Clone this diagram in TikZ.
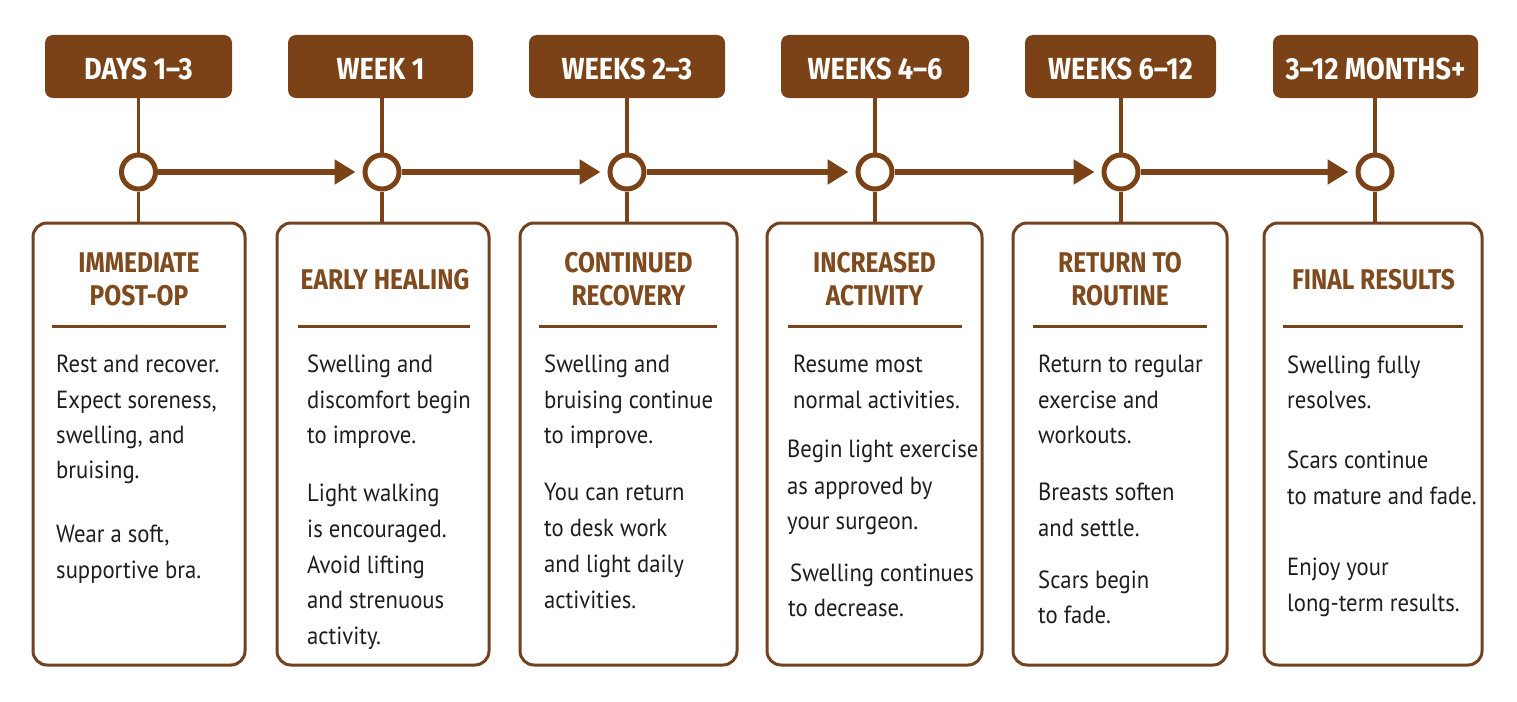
\documentclass[tikz,border=0pt]{standalone}
\usepackage{fontspec}
\usetikzlibrary{arrows.meta}
\newfontfamily\headfont[FakeStretch=0.86]{Fira Sans Bold}
\newfontfamily\tagfont[FakeStretch=0.89]{Fira Sans Bold}
\newfontfamily\bodyfont[FakeStretch=0.915]{PT Sans}
\definecolor{brownA}{HTML}{7A4216}
\definecolor{brownB}{HTML}{70421F}
\definecolor{brownH}{HTML}{7E4A1E}
\definecolor{inkC}{HTML}{1E1E1E}
\newcommand\bodyline[4]{\node[bodytext] (#1) at (#2,#3) {#4};}
\newcommand\headline[4]{\node[headtext] (#1) at (#2,#3) {#4};}
\begin{document}
\begin{tikzpicture}[x=1pt,y=-1pt,
  tagbox/.style={fill=brownA, draw=none, rounded corners=8pt, minimum height=63pt,
    inner sep=0pt, text=white, font=\tagfont\fontsize{30.5}{32}\selectfont,
    text height=25pt, text depth=0pt},
  dot/.style={circle, draw=brownA, line width=5pt, fill=white, minimum size=34pt, inner sep=0pt},
  card/.style={draw=brownB, line width=3pt, rounded corners=14pt, fill=white,
    minimum height=442pt, inner sep=0pt},
  stem/.style={draw=brownA, line width=3.5pt},
  flow/.style={draw=brownA, line width=6pt, -{Triangle[length=21pt,width=24pt]}, shorten >=7pt},
  divider/.style={draw=brownA, line width=3pt},
  headtext/.style={anchor=base, inner sep=0pt, text=brownH, font=\headfont\fontsize{28.5}{30}\selectfont},
  bodytext/.style={anchor=base west, inner sep=0pt, text=inkC, font=\bodyfont\fontsize{24.8}{29}\selectfont}
]
\useasboundingbox (0,0) rectangle (1517,701);
\fill[white] (0,0) rectangle (1517,701);

% top tags
\node[tagbox, minimum width=187pt] (t1) at (138.5,66.5) {DAYS 1–3};
\node[tagbox, minimum width=185pt] (t2) at (380.5,66.5) {WEEK 1};
\node[tagbox, minimum width=196pt] (t3) at (627,66.5) {WEEKS 2–3};
\node[tagbox, minimum width=188pt] (t4) at (875,66.5) {WEEKS 4–6};
\node[tagbox, minimum width=191pt] (t5) at (1120.5,66.5) {WEEKS 6–12};
\node[tagbox, minimum width=205pt] (t6) at (1375.5,66.5) {3–12 MONTHS+};

% circles
\node[dot] (c1) at (138.5,172) {};
\node[dot] (c2) at (382,172) {};
\node[dot] (c3) at (627,172) {};
\node[dot] (c4) at (875,172) {};
\node[dot] (c5) at (1121,172) {};
\node[dot] (c6) at (1375,172) {};

% cards
\node[card, minimum width=212pt] (b1) at (139,444) {};
\node[card, minimum width=212pt] (b2) at (383,444) {};
\node[card, minimum width=217pt] (b3) at (628.5,444) {};
\node[card, minimum width=215pt] (b4) at (874.5,444) {};
\node[card, minimum width=214pt] (b5) at (1120,444) {};
\node[card, minimum width=218pt] (b6) at (1373,444) {};

% connectors
\foreach \i in {1,...,6}{
  \draw[stem] (c\i |- t\i.south) -- (c\i.north);
  \draw[stem] (c\i.south) -- (c\i |- b\i.north);
}
\draw[flow] (c1) -- (c2);
\draw[flow] (c2) -- (c3);
\draw[flow] (c3) -- (c4);
\draw[flow] (c4) -- (c5);
\draw[flow] (c5) -- (c6);

% dividers
\draw[divider] (52,326) -- (226,326);
\draw[divider] (298,326) -- (470,326);
\draw[divider] (539,326) -- (717,326);
\draw[divider] (788,326) -- (962,326);
\draw[divider] (1033,326) -- (1207,326);
\draw[divider] (1283,326) -- (1463,326);

% headings
\headline{h1a}{139}{272}{IMMEDIATE}
\headline{h1b}{139}{305.5}{POST-OP}
\headline{h2a}{385}{289}{EARLY HEALING}
\headline{h3a}{628.5}{272}{CONTINUED}
\headline{h3b}{628.5}{305.5}{RECOVERY}
\headline{h4a}{874.5}{272}{INCREASED}
\headline{h4b}{874.5}{305.5}{ACTIVITY}
\headline{h5a}{1120}{272}{RETURN TO}
\headline{h5b}{1120}{305.5}{ROUTINE}
\headline{h6a}{1373.5}{289}{FINAL RESULTS}

% body text
\bodyline{l1a}{56}{372}{Rest and recover.}
\bodyline{l1b}{56}{408}{Expect soreness,}
\bodyline{l1c}{56}{443}{swelling, and}
\bodyline{l1d}{56}{478}{bruising.}
\bodyline{l1e}{56}{542}{Wear a soft,}
\bodyline{l1f}{56}{578}{supportive bra.}

\bodyline{l2a}{307}{372}{Swelling and}
\bodyline{l2b}{307}{408}{discomfort begin}
\bodyline{l2c}{307}{443}{to improve.}
\bodyline{l2d}{307}{501}{Light walking}
\bodyline{l2e}{307}{537}{is encouraged.}
\bodyline{l2f}{307}{573}{Avoid lifting}
\bodyline{l2g}{307}{608}{and strenuous}
\bodyline{l2h}{307}{644}{activity.}

\bodyline{l3a}{544}{372}{Swelling and}
\bodyline{l3b}{544}{408}{bruising continue}
\bodyline{l3c}{544}{443}{to improve.}
\bodyline{l3d}{544}{500}{You can return}
\bodyline{l3e}{544}{536}{to desk work}
\bodyline{l3f}{544}{572}{and light daily}
\bodyline{l3g}{544}{608}{activities.}

\bodyline{l4a}{793}{372}{Resume most}
\bodyline{l4b}{793}{408}{normal activities.}
\bodyline{l4c}{787}{457}{Begin light exercise}
\bodyline{l4d}{787}{494}{as approved by}
\bodyline{l4e}{787}{529}{your surgeon.}
\bodyline{l4f}{790}{581}{Swelling continues}
\bodyline{l4g}{788}{616}{to decrease.}

\bodyline{l5a}{1038}{372}{Return to regular}
\bodyline{l5b}{1038}{408}{exercise and}
\bodyline{l5c}{1038}{443}{workouts.}
\bodyline{l5d}{1038}{500}{Breasts soften}
\bodyline{l5e}{1038}{536}{and settle.}
\bodyline{l5f}{1038}{588}{Scars begin}
\bodyline{l5g}{1038}{623}{to fade.}

\bodyline{l6a}{1287}{373}{Swelling fully}
\bodyline{l6b}{1287}{408}{resolves.}
\bodyline{l6c}{1287}{468}{Scars continue}
\bodyline{l6d}{1287}{504}{to mature and fade.}
\bodyline{l6e}{1287}{575}{Enjoy your}
\bodyline{l6f}{1287}{611}{long-term results.}
\end{tikzpicture}
\end{document}
